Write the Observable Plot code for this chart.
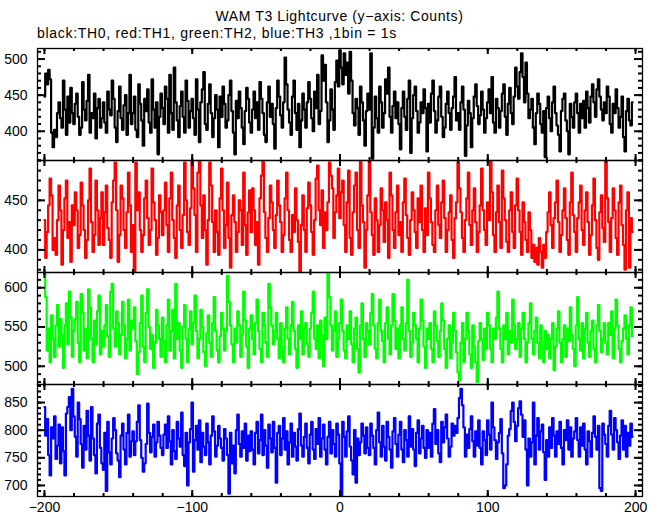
<!DOCTYPE html>
<html><head><meta charset="utf-8">
<script src="https://cdn.jsdelivr.net/npm/d3@7"></script>
<script src="https://cdn.jsdelivr.net/npm/@observablehq/plot@0.6"></script>
<style>
html,body{margin:0;padding:0;background:#fff;}
#chart{position:relative;width:660px;height:515px;font-family:"Liberation Sans",Arial,sans-serif;color:#000;overflow:hidden;}
#title{position:absolute;left:37px;width:605px;top:8px;line-height:16px;text-align:center;font-size:14px;letter-spacing:0.6px;white-space:nowrap;}
#subtitle{position:absolute;left:37px;top:25px;line-height:16px;font-size:14px;letter-spacing:0.7px;white-space:nowrap;}
.panel{position:absolute;left:0;}
.panel svg{overflow:visible;}
</style></head>
<body>
<div id="chart">
  <div id="title">WAM T3 Lightcurve (y−axis: Counts)</div>
  <div id="subtitle">black:TH0, red:TH1, green:TH2, blue:TH3 ,1bin = 1s</div>
</div>
<script>
// time of first bin (s), 1 bin = 1 s
const tStart = -200;

const th0 = [
448,480,465,485,472,398,378,402,392,425,440,418,405,470,430,395,448,412,460,425,
410,438,452,420,395,405,468,430,415,442,478,398,425,418,452,390,432,445,405,418,
440,412,398,455,430,422,470,445,405,385,428,462,418,402,436,450,395,425,478,410,
425,448,402,392,465,438,415,380,445,428,458,412,398,472,430,405,440,368,420,452,
432,410,462,445,398,478,425,402,488,440,415,392,435,455,420,398,470,442,405,428,
445,418,395,472,430,385,440,458,482,410,402,438,465,425,392,418,450,430,378,448,
420,462,438,405,415,450,470,428,398,368,442,418,455,432,405,382,428,460,445,412,
398,430,455,418,440,402,468,445,425,395,385,440,462,420,438,410,376,432,470,448,
422,405,440,502,465,430,412,395,448,470,425,402,438,378,415,452,430,405,440,468,
445,418,400,455,432,478,410,428,505,470,492,440,385,415,458,430,402,468,498,462,
512,488,465,508,478,495,452,510,470,425,408,445,432,395,462,440,415,380,428,452,
430,508,362,405,448,418,398,462,440,405,425,472,452,488,420,398,435,455,418,440,
410,375,432,455,420,402,445,470,370,418,450,462,428,398,412,440,425,458,432,372,
438,412,452,470,428,398,415,448,462,420,392,405,438,455,425,402,432,448,475,415,
425,402,440,462,430,366,408,442,425,378,418,448,465,435,410,422,455,430,398,418,
440,458,425,475,412,398,445,432,405,428,452,465,420,395,438,460,425,410,448,488,
462,445,482,508,475,440,495,452,418,430,445,405,382,425,452,438,410,398,428,364,
432,448,418,400,440,462,425,408,395,372,428,445,452,415,400,368,438,420,405,440,
452,425,398,438,418,442,405,455,432,412,448,465,440,420,458,472,448,430,415,440,
425,462,448,410,398,438,425,458,432,405,420,448,392,372,428,445,415,408,440
];

const th1 = [
430,392,418,445,472,455,400,412,395,430,465,440,385,420,452,470,412,428,388,445,
425,458,440,402,415,468,445,420,392,410,450,482,428,398,415,470,440,405,432,458,
405,438,465,422,410,392,448,470,488,440,388,415,465,452,420,402,438,478,445,398,
425,378,488,440,458,420,398,415,452,470,432,405,420,482,448,430,395,412,455,438,
415,440,468,425,398,452,478,430,412,392,445,465,420,402,435,488,450,418,405,442,
490,462,435,398,478,490,445,412,455,420,385,430,488,465,428,398,440,418,395,452,
482,440,402,425,468,412,382,435,455,428,398,418,450,440,405,478,425,395,438,460,
418,462,440,405,428,385,452,475,490,438,412,398,432,465,448,420,402,435,470,445,
428,398,415,452,478,440,410,398,435,418,462,430,408,378,425,455,420,398,442,468,
445,418,395,430,472,485,440,425,460,402,438,420,448,488,475,462,412,438,455,482,
432,458,470,425,398,448,480,412,395,438,465,478,420,402,490,445,428,382,420,455,
490,438,415,395,452,430,398,425,462,440,408,448,430,392,478,455,420,402,438,465,
415,428,398,448,472,435,412,395,430,458,440,418,402,452,428,465,420,398,442,415,
478,452,428,405,398,440,465,425,412,448,470,432,398,420,438,455,410,392,432,448,
488,462,438,412,398,430,452,478,425,405,440,462,428,398,418,445,482,440,420,405,
448,430,490,458,415,398,438,465,428,402,480,452,430,408,398,440,458,418,402,445,
472,440,418,395,448,428,410,398,438,420,392,405,388,402,385,412,398,382,405,392,
418,438,458,425,402,432,448,470,428,398,415,440,462,432,410,395,448,478,435,418,
398,432,448,465,420,405,440,458,428,395,415,445,472,430,402,390,438,455,422,408,
490,452,428,398,432,462,440,412,395,448,465,425,405,380,440,458,382,432,418
];

const th2 = [
620,588,520,548,505,565,535,512,552,578,525,560,540,498,552,580,528,595,562,512,
545,560,582,530,505,592,568,520,548,510,598,575,535,505,558,528,570,590,515,545,
525,552,578,538,512,595,605,548,525,570,555,515,540,582,552,510,535,585,520,558,
548,575,532,490,518,555,590,525,505,568,598,550,522,540,498,530,572,552,535,512,
562,532,505,552,585,520,545,572,510,605,535,555,520,498,550,578,535,505,548,570,
528,555,590,545,510,535,572,550,518,500,542,565,530,512,555,588,545,520,505,538,
568,548,520,545,615,582,552,528,505,548,530,570,552,512,540,595,558,525,498,548,
565,535,515,555,585,545,522,505,568,552,530,512,605,575,552,528,545,568,535,510,
555,525,505,548,575,535,515,552,582,545,522,498,552,535,570,515,548,555,528,512,
548,568,595,535,522,552,510,558,540,500,562,535,618,588,552,520,545,570,512,535,
555,585,545,520,510,552,535,570,528,505,548,562,522,492,552,580,535,512,555,545,
528,568,592,552,522,510,555,585,545,532,505,555,575,535,515,552,592,558,522,548,
510,552,575,535,520,555,610,545,512,530,568,552,535,505,548,585,558,525,498,548,
535,555,522,505,570,552,532,512,545,580,558,522,498,535,552,510,530,568,545,518,
492,482,530,555,505,535,568,545,515,498,552,525,505,480,532,555,535,508,548,522,
568,552,522,505,548,535,562,595,548,522,505,552,535,568,515,545,530,585,552,522,
535,555,512,548,568,535,505,530,555,580,535,515,545,562,530,510,552,525,505,545,
522,540,510,535,555,495,525,548,570,530,505,535,552,512,548,532,575,540,522,500,
552,588,535,520,555,510,548,568,530,512,545,558,522,505,552,578,545,518,535,555,
530,515,555,540,570,510,548,585,552,522,505,532,548,565,535,515,552,575,538
];

const th3 = [
842,790,820,755,718,805,785,825,748,772,810,740,805,762,718,830,842,860,800,875,
825,788,752,850,820,775,732,808,765,835,790,745,842,785,755,722,812,828,768,740,
728,795,690,815,760,738,785,822,800,758,745,715,790,812,765,738,795,828,752,780,
798,755,780,815,845,782,750,725,740,775,848,795,760,788,810,752,778,815,790,768,
755,792,810,768,825,780,738,800,762,748,815,785,770,832,755,735,795,700,778,802,
850,725,782,808,765,818,742,795,770,755,812,778,738,790,825,798,752,772,808,785,
768,745,802,785,755,685,795,740,772,722,800,828,775,752,798,768,812,745,790,762,
798,765,738,795,815,758,782,828,755,800,772,732,810,785,760,815,768,705,795,808,
755,785,822,765,798,738,778,812,752,795,770,745,802,830,772,752,788,812,768,740,
792,815,765,748,802,775,822,752,785,810,765,738,788,815,758,800,775,752,812,792,
740,682,815,788,752,798,825,770,745,720,800,705,785,755,778,812,790,758,805,768,
755,812,790,768,738,800,832,778,752,808,770,745,815,788,765,732,798,822,775,752,
792,815,765,742,800,782,752,825,770,802,765,735,795,818,758,785,808,768,750,800,
768,795,752,812,838,775,800,758,742,815,778,805,828,785,752,770,812,790,808,795,
822,858,875,845,805,752,792,768,802,825,780,752,798,772,818,768,738,798,782,755,
818,792,765,850,805,782,748,778,795,820,758,695,700,738,790,802,835,850,815,780,
808,840,852,828,788,818,765,700,785,752,778,850,738,790,822,765,798,810,760,710,
782,752,805,768,822,790,752,798,775,815,768,738,800,782,818,765,805,752,785,798,
822,782,752,805,772,812,765,738,798,780,752,795,825,788,765,808,695,690,812,792,
775,752,808,835,792,765,822,800,778,748,790,818,765,808,752,795,772,812,788
];

// tick values
const xMajorTicks = [-200, -100, 0, 100, 200];
const xMinorTicks = [-200,-180,-160,-140,-120,-100,-80,-60,-40,-20,0,20,40,60,80,100,120,140,160,180,200];

const panels = [
  {values: th0, color: "#000000", domain: [359.5, 514.6],
   major: [400, 450, 500],
   minor: [360,370,380,390,400,410,420,430,440,450,460,470,480,490,500,510]},
  {values: th1, color: "#ff0000", domain: [377.2, 490.2],
   major: [400, 450],
   minor: [380,390,400,410,420,430,440,450,460,470,480,490]},
  {values: th2, color: "#00ff00", domain: [476.8, 619.4],
   major: [500, 550, 600],
   minor: [480,490,500,510,520,530,540,550,560,570,580,590,600,610]},
  {values: th3, color: "#0000ff", domain: [680, 882.7],
   major: [700, 750, 800, 850],
   minor: [690,700,710,720,730,740,750,760,770,780,790,800,810,820,830,840,850,860,870,880]}
];

const edges = [48, 160, 272, 384];
const innerH = 112, innerW = 605, mL = 37, mR = 18, mT = 2;
const chart = document.getElementById("chart");

panels.forEach((p, k) => {
  const last = k === panels.length - 1;
  const mB = last ? 19 : 2;
  const rows = p.values.map((v, i) => ({t: tStart + i, v}));
  const tk = {stroke: "black", strokeWidth: 2};
  const marks = [
    Plot.line(rows, {x: "t", y: "v", stroke: p.color, strokeWidth: 2.2, curve: "step", clip: true}),
    Plot.tickX(xMinorTicks, {...tk, insetTop: innerH - 3}),
    Plot.tickX(xMinorTicks, {...tk, insetBottom: innerH - 3}),
    Plot.tickX(xMajorTicks, {...tk, insetTop: innerH - 6}),
    Plot.tickX(xMajorTicks, {...tk, insetBottom: innerH - 6}),
    Plot.tickY(p.minor, {...tk, insetRight: innerW - 4}),
    Plot.tickY(p.minor, {...tk, insetLeft: innerW - 4}),
    Plot.tickY(p.major, {...tk, insetRight: innerW - 8}),
    Plot.tickY(p.major, {...tk, insetLeft: innerW - 8}),
    Plot.axisY(p.major, {tickSize: 0, tickPadding: 10, fontSize: 14, label: null}),
    Plot.frame({stroke: "black", strokeWidth: 1.3})
  ];
  if (last) marks.push(Plot.axisX(xMajorTicks, {anchor: "bottom", tickSize: 0, tickPadding: 6, fontSize: 14, label: null}));
  const svg = Plot.plot({
    width: 660,
    height: innerH + mT + mB,
    marginLeft: mL, marginRight: mR, marginTop: mT, marginBottom: mB,
    x: {domain: [-204.7, 204.7], label: null, axis: last ? undefined : null},
    y: {domain: p.domain, label: null},
    marks,
    style: {fontFamily: "'Liberation Sans', Arial, sans-serif", fontSize: "14px", background: "transparent", color: "black", overflow: "visible"}
  });
  const div = document.createElement("div");
  div.className = "panel";
  div.style.top = (edges[k] - mT) + "px";
  div.appendChild(svg);
  chart.appendChild(div);
});
</script>
</body></html>
